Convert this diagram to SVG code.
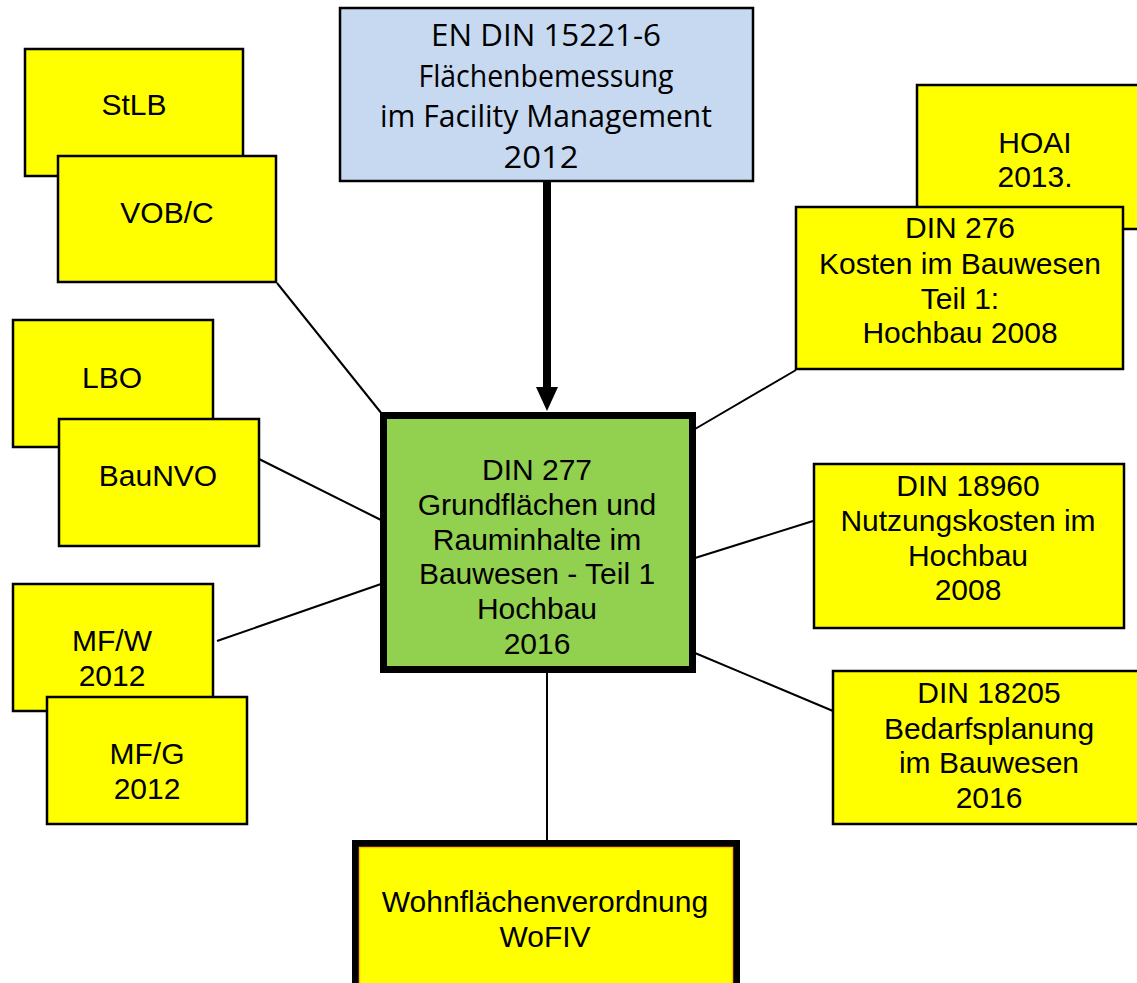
<svg xmlns="http://www.w3.org/2000/svg" width="1137" height="983" viewBox="0 0 1137 983">
<defs>
<style>
.y{fill:#FFFF00;stroke:#000;stroke-width:2.5}
.t{font-family:"Liberation Sans",Arial,sans-serif;font-size:30px;fill:#000;text-anchor:middle}
.tb{font-family:"Open Sans","DejaVu Sans",sans-serif;font-size:31px;fill:#000;text-anchor:middle}
.c{stroke:#000;stroke-width:2;fill:none}
</style>
</defs>
<rect width="1137" height="983" fill="#fff"/>
<g id="connectors">
<line class="c" x1="277" y1="283" x2="382" y2="414"/>
<line class="c" x1="259" y1="459" x2="381" y2="520"/>
<line class="c" x1="217" y1="641" x2="381" y2="584"/>
<line class="c" x1="796" y1="370" x2="695" y2="429"/>
<line class="c" x1="813" y1="521" x2="695" y2="558"/>
<line class="c" x1="833" y1="711" x2="695" y2="653"/>
<line class="c" x1="547" y1="673" x2="547" y2="841"/>
<line x1="547" y1="182" x2="547" y2="388" stroke="#000" stroke-width="8"/>
<path d="M536,387 L558,387 L547,411 Z" fill="#000"/>
</g>
<g id="en15221">
<rect x="340" y="8" width="413" height="173" fill="#C6D9F1" stroke="#000" stroke-width="2.5"/>
<text class="tb" x="546" y="46" textLength="230" lengthAdjust="spacingAndGlyphs">EN DIN 15221-6</text>
<text class="tb" x="546" y="87" textLength="255" lengthAdjust="spacingAndGlyphs">Flächenbemessung</text>
<text class="tb" x="546" y="127" textLength="332" lengthAdjust="spacingAndGlyphs">im Facility Management</text>
<text class="tb" x="541" y="168" textLength="75" lengthAdjust="spacingAndGlyphs">2012</text>
</g>
<g id="stlb">
<rect class="y" x="25" y="49" width="218" height="127"/>
<text class="t" x="134" y="115">StLB</text>
</g>
<g id="vobc">
<rect class="y" x="58" y="156" width="218" height="126"/>
<text class="t" x="167" y="223">VOB/C</text>
</g>
<g id="lbo">
<rect class="y" x="13" y="320" width="200" height="127"/>
<text class="t" x="112" y="388">LBO</text>
</g>
<g id="baunvo">
<rect class="y" x="59" y="419" width="200" height="127"/>
<text class="t" x="158" y="486">BauNVO</text>
</g>
<g id="mfw">
<rect class="y" x="13" y="584" width="200" height="127"/>
<text class="t" x="112" y="651">MF/W</text>
<text class="t" x="112" y="686">2012</text>
</g>
<g id="mfg">
<rect class="y" x="47" y="697" width="200" height="127"/>
<text class="t" x="147" y="764">MF/G</text>
<text class="t" x="147" y="799">2012</text>
</g>
<g id="hoai">
<rect class="y" x="917" y="85" width="240" height="144"/>
<text class="t" x="1035" y="153">HOAI</text>
<text class="t" x="1035" y="187">2013.</text>
</g>
<g id="din276">
<rect class="y" x="796" y="207" width="327" height="162"/>
<text class="t" x="960" y="238">DIN 276</text>
<text class="t" x="960" y="274">Kosten im Bauwesen</text>
<text class="t" x="960" y="309">Teil 1:</text>
<text class="t" x="960" y="343">Hochbau 2008</text>
</g>
<g id="din18960">
<rect class="y" x="814" y="464" width="310" height="164"/>
<text class="t" x="968" y="496">DIN 18960</text>
<text class="t" x="968" y="531">Nutzungskosten im</text>
<text class="t" x="968" y="566">Hochbau</text>
<text class="t" x="968" y="600">2008</text>
</g>
<g id="din18205">
<rect class="y" x="833" y="671" width="320" height="153"/>
<text class="t" x="989" y="703">DIN 18205</text>
<text class="t" x="989" y="739">Bedarfsplanung</text>
<text class="t" x="989" y="773">im Bauwesen</text>
<text class="t" x="989" y="808">2016</text>
</g>
<g id="din277">
<rect x="383.5" y="415.5" width="309" height="254" fill="#92D050" stroke="#000" stroke-width="7"/>
<text class="t" x="537" y="480">DIN 277</text>
<text class="t" x="537" y="515">Grundflächen und</text>
<text class="t" x="537" y="550">Rauminhalte im</text>
<text class="t" x="537" y="584">Bauwesen - Teil 1</text>
<text class="t" x="537" y="619">Hochbau</text>
<text class="t" x="537" y="654">2016</text>
</g>
<g id="wofiv">
<rect x="355.5" y="843.5" width="381" height="150" fill="#FFFF00" stroke="#000" stroke-width="7"/>
<rect x="359.5" y="847.5" width="373" height="142" fill="none" stroke="#FFC000" stroke-width="1.5"/>
<text class="t" x="545" y="912">Wohnflächenverordnung</text>
<text class="t" x="545" y="947">WoFIV</text>
</g>
</svg>
